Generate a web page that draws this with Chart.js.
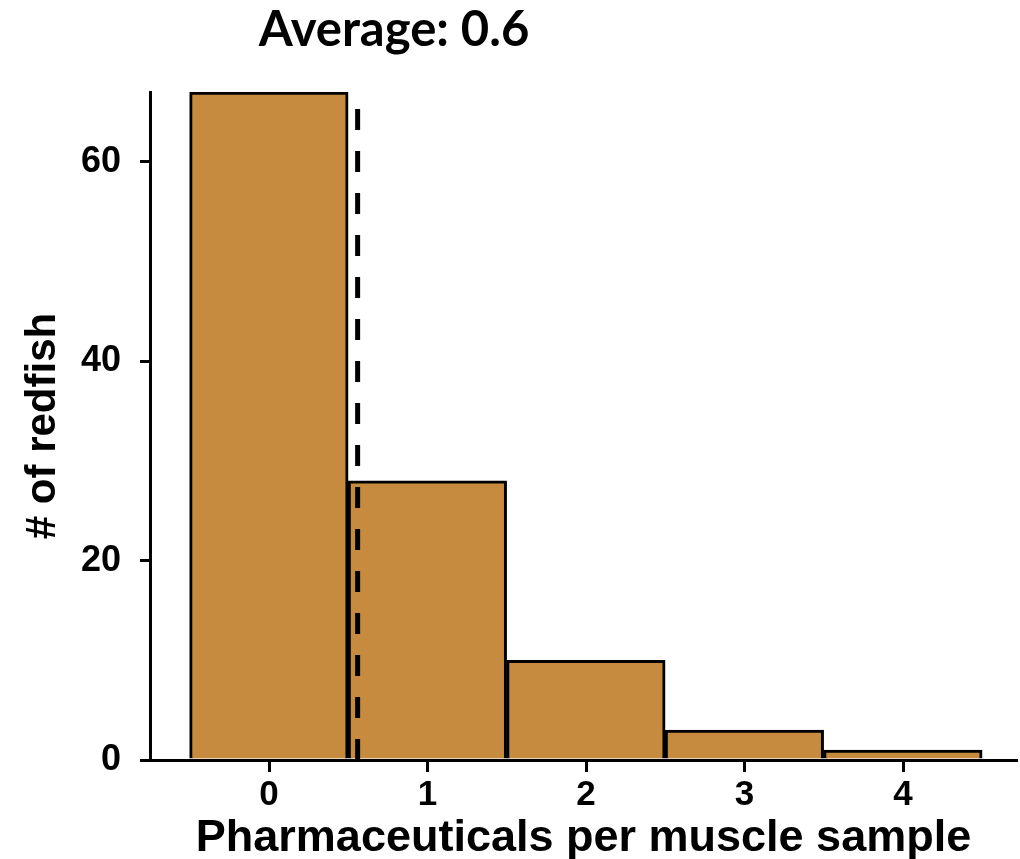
<!DOCTYPE html>
<html>
<head>
<meta charset="utf-8">
<script src="https://cdn.jsdelivr.net/npm/chart.js@4.4.0/dist/chart.umd.min.js"></script>
<style>
  html, body { margin: 0; padding: 0; background: #fff; }
  #wrap { width: 1020px; height: 859px; }
</style>
</head>
<body>
<div id="wrap"><canvas id="histChart" width="1020" height="859"></canvas></div>
<script>
const counts = [0, 1, 2, 3, 4]
const redfish = [67, 28, 10, 3, 1]
const meanValue = 0.56
const meanLabel = 'Average: 0.6'
const xTicks = [0, 1, 2, 3, 4]
const yTicks = [0, 20, 40, 60]

// título e marcas do eixo x desenhados à mão
const extrasPlugin = {
  id: 'extras',
  afterDraw(chart) {
    const c = chart.ctx
    const xs = chart.scales.x
    c.save()
    c.strokeStyle = '#000'
    c.lineWidth = 3
    xTicks.forEach(v => {
      const px = Math.round(xs.getPixelForValue(v)) + 0.5
      c.beginPath()
      c.moveTo(px, xs.top)
      c.lineTo(px, xs.top + 12)
      c.stroke()
    })
    c.font = 'bold 49px Lato, "Open Sans", sans-serif'
    c.fillStyle = '#000'
    c.textAlign = 'center'
    c.textBaseline = 'alphabetic'
    c.fillText(meanLabel, 394, 46)
    c.restore()
  }
}

const initHistChart = () => {
  const ctx = document.getElementById('histChart')
  if (!ctx) return

  new Chart(ctx, {
    type: 'bar',
    data: {
      datasets: [
        {
          type: 'line',
          data: [{ x: meanValue, y: 0 }, { x: meanValue, y: 67 }],
          borderColor: '#000',
          borderWidth: 5,
          borderDash: [21, 21],
          pointRadius: 0,
          order: 0
        },
        {
          type: 'bar',
          data: counts.map((c, i) => ({ x: c, y: redfish[i] })),
          backgroundColor: '#C78B3F',
          borderColor: '#000',
          borderWidth: 3,
          barPercentage: 1,
          categoryPercentage: 1,
          order: 1
        }
      ]
    },
    options: {
      responsive: false,
      animation: false,
      layout: { padding: { top: 92, right: 3, left: 0, bottom: 0 } },
      plugins: { legend: { display: false }, tooltip: { enabled: false }, title: { display: false } },
      scales: {
        x: {
          type: 'linear',
          offset: false,
          min: -0.75,
          max: 4.72,
          afterBuildTicks: s => { s.ticks = xTicks.map(v => ({ value: v })) },
          afterFit: s => { s.height = 99 },
          border: { display: true, color: '#000', width: 3 },
          grid: { display: false },
          ticks: {
            color: '#000',
            padding: 6,
            maxRotation: 0,
            font: { family: '"Liberation Sans", Arial, sans-serif', weight: 'bold', size: 35 }
          },
          title: {
            display: true,
            text: 'Pharmaceuticals per muscle sample',
            color: '#000',
            padding: { top: 0, bottom: -7 },
            font: { family: '"Liberation Sans", Arial, sans-serif', weight: 'bold', size: 45 }
          }
        },
        y: {
          min: 0,
          max: 67,
          afterBuildTicks: s => { s.ticks = yTicks.map(v => ({ value: v })) },
          afterFit: s => { s.width = 150 },
          border: { display: true, color: '#000', width: 3 },
          grid: { drawOnChartArea: false, drawTicks: true, tickLength: 10, color: '#000', lineWidth: 3 },
          ticks: {
            color: '#000',
            padding: 19,
            font: { family: '"Liberation Sans", Arial, sans-serif', weight: 'bold', size: 36 }
          },
          title: {
            display: true,
            text: '# of redfish',
            color: '#000',
            padding: { top: 18, bottom: 0 },
            font: { family: '"Liberation Sans", Arial, sans-serif', weight: 'bold', size: 42 }
          }
        }
      }
    },
    plugins: [extrasPlugin]
  })
}

initHistChart()
</script>
</body>
</html>
